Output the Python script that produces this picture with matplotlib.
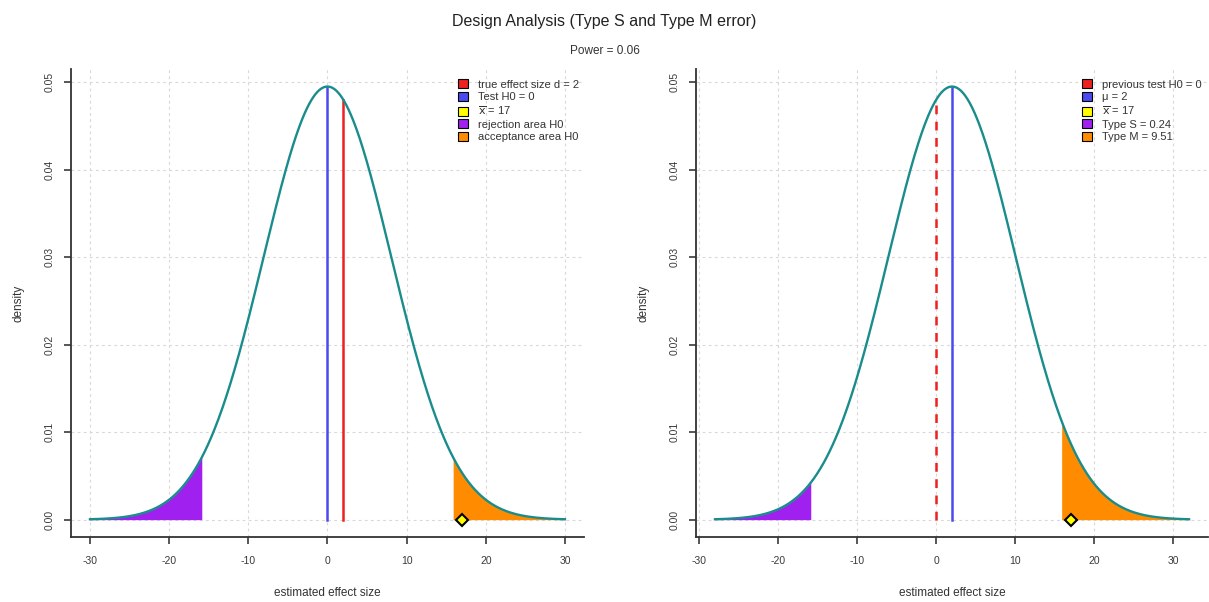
import numpy as np
import matplotlib.pyplot as plt
from matplotlib.patches import Patch

plt.rcParams['font.family'] = ['Liberation Sans', 'DejaVu Sans']

# design parameters
true_effect = 2
h0_value = 0
se = 8.06
crit = 15.8
x_bar = 17
power = 0.06
type_s = 0.24
type_m = 9.51
half_range = 30

x_ticks = [-30, -20, -10, 0, 10, 20, 30]
y_ticks = [0.00, 0.01, 0.02, 0.03, 0.04, 0.05]

teal = '#1a8c8c'
red = '#ee2020'
blue = '#4a4af0'
purple = '#a020f0'
orange = '#ff8c00'
yellow = '#ffff00'


def dnorm(x, mu, sd):
    return np.exp(-0.5 * ((x - mu) / sd) ** 2) / (sd * np.sqrt(2 * np.pi))


def style_axes(ax, center):
    lo, hi = center - half_range, center + half_range
    pad = (hi - lo) * 0.04
    ax.set_xlim(lo - pad, hi + pad)
    ymax = dnorm(center, center, se)
    ax.set_ylim(-ymax * 0.04, ymax * 1.04)
    ax.set_xticks(x_ticks)
    ax.set_xticklabels([str(t) for t in x_ticks])
    ax.set_yticks(y_ticks)
    ax.set_yticklabels([f'{t:.2f}' for t in y_ticks], rotation=90, va='center')
    ax.tick_params(axis='both', labelsize=7.5, colors='#3a3a3a', length=5, width=1.2,
                   direction='out')
    ax.tick_params(axis='x', pad=9)
    ax.tick_params(axis='y', pad=7)
    for s in ('top', 'right'):
        ax.spines[s].set_visible(False)
    for s in ('left', 'bottom'):
        ax.spines[s].set_color('#333333')
        ax.spines[s].set_linewidth(1.3)
    ax.grid(True, color='#d8d8d8', linestyle=(0, (2.5, 3)), linewidth=0.8)
    ax.set_axisbelow(True)
    ax.set_xlabel('estimated effect size', fontsize=8.5, color='#333333', labelpad=15)
    ax.set_ylabel('density', fontsize=8.5, color='#333333', labelpad=14)


def draw_panel(ax, center, v_lines, labels, colors):
    x = np.linspace(center - half_range, center + half_range, 600)
    y = dnorm(x, center, se)
    left = x <= -crit
    right = x >= crit
    ax.fill_between(x[left], 0, y[left], color=purple, linewidth=0)
    ax.fill_between(x[right], 0, y[right], color=orange, linewidth=0)
    for xv, col, ls in v_lines:
        ax.plot([xv, xv], [0, dnorm(xv, center, se)], color=col, lw=1.8,
                linestyle=ls, zorder=3)
    ax.plot(x, y, color=teal, lw=1.7, zorder=4)
    ax.plot([x_bar], [0], marker='D', markersize=6.5, markerfacecolor=yellow,
            markeredgecolor='black', markeredgewidth=1.5, linestyle='none',
            zorder=5, clip_on=False)
    handles = [Patch(facecolor=c, edgecolor='black', linewidth=0.8) for c in colors]
    ax.legend(handles, labels, loc='upper left', bbox_to_anchor=(0.739, 0.995),
              frameon=False, fontsize=8, handlelength=0.9, handleheight=0.85,
              handletextpad=0.9, labelspacing=0.2, borderpad=0.2,
              labelcolor='#333333')
    style_axes(ax, center)


fig = plt.figure(figsize=(12.09, 6.02), dpi=100)
ax1 = fig.add_axes([0.0587, 0.108, 0.4243, 0.777])
ax2 = fig.add_axes([0.5757, 0.108, 0.4235, 0.777])

legend_colors = [red, blue, yellow, purple, orange]

draw_panel(ax1, h0_value,
           [(h0_value, blue, '-'), (true_effect, red, '-')],
           [f'true effect size d = {true_effect}', f'Test H0 = {h0_value}',
            rf'$\overline{{\mathrm{{x}}}}$ = {x_bar}', 'rejection area H0',
            'acceptance area H0'],
           legend_colors)

draw_panel(ax2, true_effect,
           [(h0_value, red, (0, (3.5, 3))), (true_effect, blue, '-')],
           [f'previous test H0 = {h0_value}', f'\u03bc = {true_effect}',
            rf'$\overline{{\mathrm{{x}}}}$ = {x_bar}', f'Type S = {type_s}',
            f'Type M = {type_m}'],
           legend_colors)

fig.text(0.5, 0.965, 'Design Analysis (Type S and Type M error)', ha='center',
         va='center', fontsize=11.5, color='#222222')
fig.text(0.5, 0.915, f'Power = {power}', ha='center', va='center', fontsize=8.5,
         color='#333333')

fig.savefig('out.png', dpi=100)
